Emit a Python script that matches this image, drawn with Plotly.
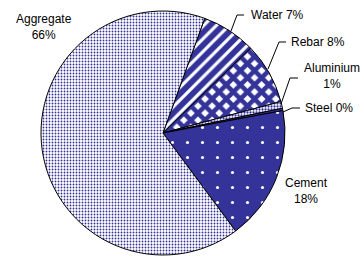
import plotly.graph_objects as go

W, H = 364, 258

labels = ["Water", "Rebar", "Aluminium", "Steel", "Cement", "Aggregate"]
values = [7.2, 8.1, 0.9, 0.3, 17.8, 65.7]
label_text = ["Water 7%", "Rebar 8%", "Aluminium<br>1%", "Steel 0%", "Cement<br>18%", "Aggregate<br>66%"]

NAVY = "#333399"

shapes_ = ["/", "x", ".", "", ".", "."]
fg = ["white", NAVY, NAVY, NAVY, "white", NAVY]
bg = [NAVY, "white", "white", NAVY, NAVY, "white"]
sizes = [9, 10, 3, 4, 15, 3]
solid = [0.35, 0.7, 0.45, 0.3, 0.035, 0.3]

fig = go.Figure(go.Pie(
    labels=labels, values=values, sort=False, direction="clockwise", rotation=20,
    textinfo="none", hoverinfo="label+percent",
    marker=dict(colors=bg, line=dict(color="black", width=1),
                pattern=dict(shape=shapes_, fgcolor=fg, bgcolor=bg, size=sizes,
                             solidity=solid, fillmode="replace")),
    domain=dict(x=[41 / W, 285 / W], y=[3 / H, 247 / H]),
    showlegend=False,
))

def px(x, y):
    return x / W, 1 - y / H

# label positions (pixel centers)
label_pos = [(277, 15), (318, 42), (332, 76), (329, 108), (306, 191), (44, 27)]
annotations = []
for t, (x, y) in zip(label_text, label_pos):
    ax, ay = px(x, y)
    annotations.append(dict(x=ax, y=ay, xref="paper", yref="paper", text=t, showarrow=False,
                            font=dict(family="Arial, Liberation Sans", size=12, color="black"),
                            align="center", xanchor="center", yanchor="middle"))

leaders = [
    [(244, 15), (237, 15), (231, 31)],
    [(286, 42), (279, 42), (268, 69)],
    [(298, 78), (290, 78), (281, 104)],
    [(300, 108), (292, 108), (283, 112)],
]
shapes = []
for pts in leaders:
    path = "M " + " L ".join(f"{px(x, y)[0]},{px(x, y)[1]}" for x, y in pts)
    shapes.append(dict(type="path", xref="paper", yref="paper", path=path,
                       line=dict(color="black", width=1)))

fig.update_layout(width=W, height=H, margin=dict(l=0, r=0, t=0, b=0),
                  paper_bgcolor="white", plot_bgcolor="white",
                  annotations=annotations, shapes=shapes)
fig.write_html("out.html", config={"displayModeBar": False},
               post_script="document.body.style.margin='0';document.body.style.padding='0';")
